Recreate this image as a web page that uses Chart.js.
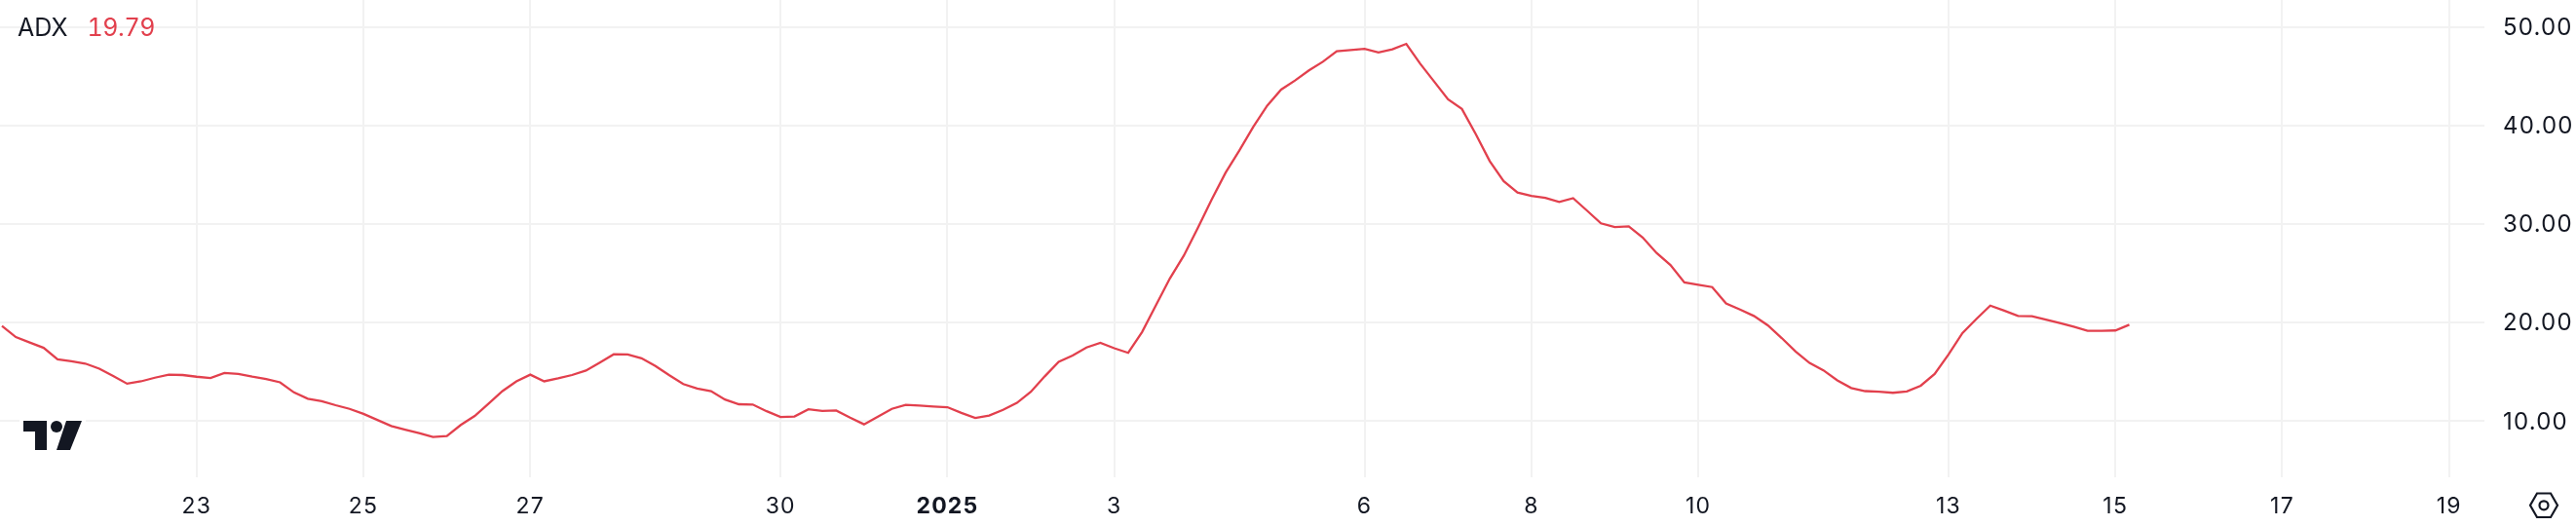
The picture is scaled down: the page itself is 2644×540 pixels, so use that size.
<!DOCTYPE html>
<html lang="en">
<head>
<meta charset="UTF-8">
<title>ADX</title>
<script src="https://cdn.jsdelivr.net/npm/chart.js"></script>
<style>
    * { margin: 0; padding: 0; box-sizing: border-box; }
    body { background: #fff; width: 2644px; height: 540px; overflow: hidden; position: relative; font-family: Inter, sans-serif; }
    canvas { position: absolute; left: 0; top: 0; }
    .legend { position: absolute; left: 18px; top: 14px; font-size: 25px; line-height: 29px; color: #131722; white-space: pre; font-variant-numeric: tabular-nums; }
    .legend span { color: #e2404d; margin-left: 20px; letter-spacing: -0.4px; }
    .logo { position: absolute; left: 20px; top: 428px; background: #fff; }
    .gear { position: absolute; left: 2595px; top: 504px; }
</style>
</head>
<body>
<canvas id="adxChart" width="2644" height="540"></canvas>
<div class="legend">ADX<span>19.79</span></div>
<svg class="logo" width="68" height="38" viewBox="20 428 68 38">
    <path d="M24 432H48V462H36V443H24Z M68 432H84L72 462H58Z" fill="#131722"/>
    <circle cx="58" cy="438" r="6" fill="#131722"/>
</svg>
<svg class="gear" width="32" height="30" viewBox="2595 504 32 30" fill="none" stroke="#131722" stroke-width="2.2">
    <path d="M2604 506.5H2618L2625 518.8L2618 531H2604L2597 518.8Z"/>
    <circle cx="2611" cy="518.8" r="4.5"/>
</svg>
<script>
    // 4h bars, index 0 sits at the left edge
    const adxValues = [
        19.66, 18.54, 17.99, 17.45, 16.29, 16.09, 15.85, 15.34, 14.59, 13.81,
        14.05, 14.42, 14.73, 14.69, 14.52, 14.39, 14.90, 14.80, 14.52, 14.29,
        13.95, 12.93, 12.28, 12.04, 11.63, 11.26, 10.75, 10.14, 9.52, 9.15,
        8.81, 8.40, 8.50, 9.63, 10.54, 11.80, 13.06, 14.05, 14.73, 14.05,
        14.35, 14.69, 15.14, 15.95, 16.80, 16.77, 16.39, 15.61, 14.66, 13.78,
        13.33, 13.06, 12.21, 11.73, 11.70, 11.02, 10.44, 10.48, 11.22, 11.05,
        11.09, 10.37, 9.69, 10.48, 11.26, 11.67, 11.60, 11.50, 11.43, 10.85,
        10.34, 10.58, 11.16, 11.87, 12.99, 14.56, 16.02, 16.67, 17.48, 17.96,
        17.41, 16.94, 19.05, 21.77, 24.49, 26.80, 29.59, 32.48, 35.20, 37.48,
        39.86, 42.01, 43.64, 44.56, 45.58, 46.46, 47.52, 47.65, 47.76, 47.41,
        47.72, 48.27, 46.26, 44.46, 42.65, 41.67, 39.12, 36.39, 34.35, 33.20,
        32.86, 32.65, 32.24, 32.62, 31.36, 30.07, 29.69, 29.76, 28.64, 27.07,
        25.85, 24.08, 23.84, 23.61, 21.94, 21.33, 20.68, 19.73, 18.44, 17.07,
        15.92, 15.17, 14.15, 13.37, 13.06, 12.99, 12.89, 13.03, 13.61, 14.80,
        16.77, 18.95, 20.37, 21.73, 21.22, 20.68, 20.65, 20.31, 19.97, 19.59,
        19.18, 19.18, 19.21, 19.79
    ];
    const dateBars = [14, 26, 38, 56, 68, 80, 98, 110, 122, 140, 152, 164, 176];
    const dateLabels = ['23', '25', '27', '30', '2025', '3', '6', '8', '10', '13', '15', '17', '19'];
    const priceTicks = [10, 20, 30, 40, 50];

    const gridColor = '#f2f2f2';
    const textColor = '#131722';

    // the reference has tabular digits, canvas can't do that so widen them a bit
    const tickSpacing = {
        id: 'tickSpacing',
        beforeLayout: chart => { chart.ctx.letterSpacing = '1.2px'; }
    };

    new Chart(document.getElementById('adxChart'), {
        type: 'line',
        plugins: [tickSpacing],
        data: {
            datasets: [{
                label: 'ADX',
                data: adxValues.map((v, i) => ({ x: i, y: v })),
                borderColor: '#e2404d',
                borderWidth: 2.3,
                pointRadius: 0,
                tension: 0
            }]
        },
        options: {
            responsive: false,
            animation: false,
            devicePixelRatio: 1,
            layout: { padding: 0 },
            plugins: { legend: { display: false }, tooltip: { enabled: false } },
            scales: {
                x: {
                    type: 'linear',
                    min: -0.14,
                    max: 178.54,
                    afterBuildTicks: axis => { axis.ticks = dateBars.map(v => ({ value: v })); },
                    afterFit: axis => {
                        axis.height = 50;
                        axis.paddingLeft = 0;
                        axis.paddingRight = 0;
                    },
                    border: { display: false },
                    grid: { color: gridColor, lineWidth: 2, drawTicks: false },
                    ticks: {
                        autoSkip: false,
                        maxRotation: 0,
                        padding: 16,
                        color: textColor,
                        font: ctx => ({
                            family: 'Inter',
                            size: 23,
                            weight: ctx.tick && ctx.tick.value === 68 ? 'bold' : 'normal'
                        }),
                        callback: value => dateLabels[dateBars.indexOf(value)]
                    }
                },
                y: {
                    position: 'right',
                    min: 4.32,
                    max: 52.72,
                    afterBuildTicks: axis => { axis.ticks = priceTicks.map(v => ({ value: v })); },
                    afterFit: axis => {
                        axis.width = 94;
                        axis.paddingTop = 0;
                        axis.paddingBottom = 0;
                    },
                    border: { display: false },
                    grid: { color: gridColor, lineWidth: 2, drawTicks: false },
                    ticks: {
                        padding: 19,
                        labelOffset: 1,
                        color: textColor,
                        font: { family: 'Inter', size: 24 },
                        callback: value => value.toFixed(2)
                    }
                }
            }
        }
    });
</script>
</body>
</html>
